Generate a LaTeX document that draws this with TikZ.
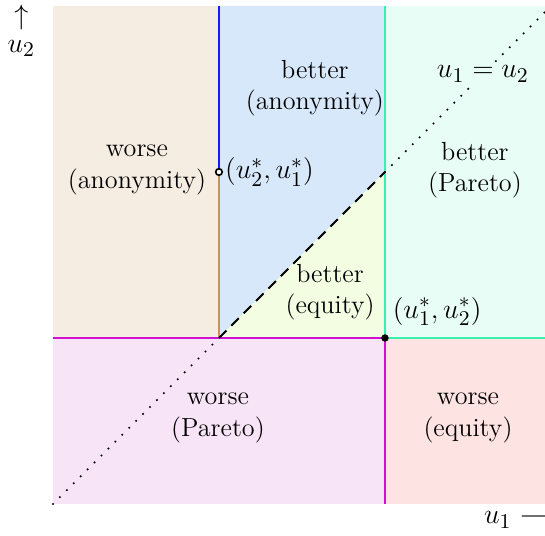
\documentclass[tikz,border=0pt]{standalone}
\usepackage{amsmath}
\definecolor{fbrown}{HTML}{F5ECE2}
\definecolor{fblue}{HTML}{D8E8FB}
\definecolor{fyellow}{HTML}{F3FDE2}
\definecolor{fmint}{HTML}{E7FDF6}
\definecolor{fpink}{HTML}{F8E4F7}
\definecolor{fred}{HTML}{FDE3E1}
\definecolor{lbrown}{HTML}{C8915A}
\definecolor{lblue}{HTML}{1A1AF0}
\definecolor{lgreen}{HTML}{3AF0B0}
\definecolor{lmag}{HTML}{D010D0}
\tikzset{
  region/.style={align=center, font=\fontsize{11.2}{13.5}\selectfont},
  bline/.style={line width=0.9pt},
  pt/.style={font=\fontsize{12.4}{14}\selectfont},
  dotline/.style={line width=1pt, line cap=round, dash pattern=on 0pt off 4.2pt}
}
\begin{document}
\begin{tikzpicture}[x=2.5cm,y=2.5cm]
\useasboundingbox (-0.319,-0.187) rectangle (2.964,3.036);
\clip (-0.319,-0.187) rectangle (2.964,3.036);
% fills
\fill[fbrown] (0,1) rectangle (1,3);
\fill[fblue] (1,1) -- (2,2) -- (2,3) -- (1,3) -- cycle;
\fill[fyellow] (1,1) -- (2,1) -- (2,2) -- cycle;
\fill[fmint] (2,1) rectangle (3,3);
\fill[fpink] (0,0) rectangle (2,1);
\fill[fred] (2,0) rectangle (3,1);
% coordinates
\coordinate (o) at (0,0);
\coordinate (tr) at (3,3);
\coordinate (a) at (1,1);
\coordinate (b) at (2,1);
\coordinate (c) at (1,2);
\coordinate (d) at (2,2);
\coordinate (l1) at (0,1);
\coordinate (r1) at (3,1);
\coordinate (t1) at (1,3);
\coordinate (t2) at (2,3);
\coordinate (b2) at (2,0);
% lines
\draw[bline,lbrown] (a) -- (c);
\draw[bline,lblue] (c) -- (t1);
\draw[bline,lgreen] (b) -- (t2);
\draw[bline,lgreen] (b) -- (r1);
\draw[bline,lmag] (l1) -- (b);
\draw[bline,lmag] (b2) -- (b);
\draw[line width=0.8pt,dash pattern=on 4.5pt off 3pt] (a) -- (d);
\draw[dotline] (o) -- (a);
\draw[dotline] (d) -- (tr);
% points
\fill (b) circle (1.6pt);
\draw[line width=0.7pt,fill=white] (c) circle (1.4pt);
% labels
\node[region] (wa) at (0.506,2.012) {worse\\(anonymity)};
\node[region] (ba) at (1.578,2.506) {better\\(anonymity)};
\node[pt,anchor=west,inner sep=1pt] (p21) at (1.02,2.0) {$(u_2^*,u_1^*)$};
\node[pt,fill=fmint,inner sep=1pt] (eq) at (2.59,2.59) {$u_1=u_2$};
\node[region] (bp) at (2.542,2.012) {better\\(Pareto)};
\node[region] (be) at (1.669,1.277) {better\\(equity)};
\node[pt,anchor=west,inner sep=1pt] (p12) at (2.03,1.16) {$(u_1^*,u_2^*)$};
\node[region] (wp) at (0.994,0.518) {worse\\(Pareto)};
\node[region] (we) at (2.5,0.518) {worse\\(equity)};
\node[pt,align=center,inner sep=1pt] (ax2) at (-0.19,2.85) {$\uparrow$\\[-2pt]$u_2$};
\node[pt,anchor=west,inner sep=1pt] (ax1) at (2.58,-0.096) {$u_1\longrightarrow$};
\end{tikzpicture}
\end{document}
